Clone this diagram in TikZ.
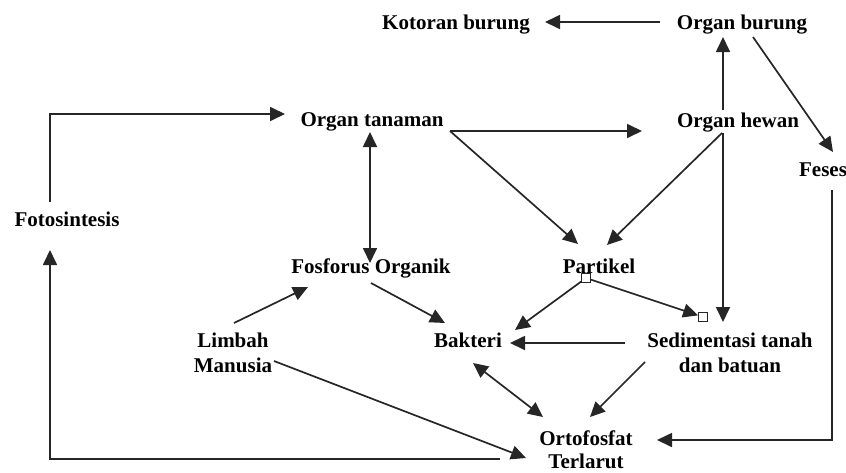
\documentclass[tikz,border=0pt]{standalone}
\usepackage{fontspec}
\setmainfont{Liberation Serif}
\usetikzlibrary{arrows.meta}

\begin{document}
\begin{tikzpicture}[x=1pt,y=-1pt,
  lbl/.style={font=\bfseries\fontsize{21}{25}\selectfont, inner sep=0pt, anchor=base, align=center},
  arr/.style={draw=black!85, line width=1.7pt, -{Triangle[length=15pt,width=14pt]}},
  darr/.style={arr, {Triangle[length=15pt,width=14pt]}-{Triangle[length=15pt,width=14pt]}},
  handle/.style={draw=black!85, fill=white, line width=0.8pt, minimum size=9pt, inner sep=0pt}]
 \useasboundingbox (0,0) rectangle (846,472);
 \node[lbl] (kotoran) at (456,29) {Kotoran burung};
 \node[lbl] (burung) at (742,29) {Organ burung};
 \node[lbl] (tanaman) at (372,126) {Organ tanaman};
 \node[lbl] (hewan) at (738,127) {Organ hewan};
 \node[lbl] (feses) at (823,176) {Feses};
 \node[lbl] (foto) at (67,226) {Fotosintesis};
 \node[lbl] (fosforus) at (371,273) {Fosforus Organik};
 \node[lbl] (partikel) at (599,273) {Partikel};
 \node[lbl] (limbah) at (233,372) {Limbah\\Manusia};
 \node[lbl] (bakteri) at (468,347) {Bakteri};
 \node[lbl] (sedimen) at (730,372) {Sedimentasi tanah\\dan batuan};
 \node[lbl, font=\bfseries\fontsize{21}{23}\selectfont] (orto) at (586,468) {Ortofosfat\\Terlarut};
 \node[handle] (h1) at ([shift={(-13,5)}]partikel.base) {};
 \node[handle] (h2) at ([shift={(-27,-55)}]sedimen.base) {};

 \draw[arr] ([shift={(-82,-7)}]burung.base) -- ([shift={(89,-7)}]kotoran.base);
 \draw[arr] ([shift={(-15,-17)}]hewan.base) -- ([shift={(-19,8)}]burung.base);
 \draw[arr] ([shift={(11,8)}]burung.base) -- ([shift={(10,-24)}]feses.base);
 \draw[arr] ([shift={(-17,-24)}]foto.base) |- ([shift={(-87,-12)}]tanaman.base);
 \draw[darr] ([shift={(-2,6)}]tanaman.base) -- ([shift={(-1,-10)}]fosforus.base);
 \draw[arr] ([shift={(78,5)}]tanaman.base) -- ([shift={(-96,4)}]hewan.base);
 \draw[arr] ([shift={(78,5)}]tanaman.base) -- ([shift={(-21,-29)}]partikel.base);
 \draw[arr] ([shift={(-16,6)}]hewan.base) -- ([shift={(8,-28)}]partikel.base);
 \draw[arr] ([shift={(-15,6)}]hewan.base) -- ([shift={(-7,-50)}]sedimen.base);
 \draw[arr] ([shift={(9,14)}]feses.base) |- ([shift={(71,-28)}]orto.base);
 \draw[arr] ([shift={(-86,-9)}]orto.base) -| ([shift={(-17,24)}]foto.base);
 \draw[arr] ([shift={(1,-49)}]limbah.base) -- ([shift={(-63,14)}]fosforus.base);
 \draw[arr] ([shift={(41,-11)}]limbah.base) -- ([shift={(-60,-10)}]orto.base);
 \draw[arr] ([shift={(0,10)}]fosforus.base) -- ([shift={(-23,-24)}]bakteri.base);
 \draw[arr] (h1) -- ([shift={(47,-17)}]bakteri.base);
 \draw[arr] (h1) -- (h2);
 \draw[arr] ([shift={(-105,-29)}]sedimen.base) -- ([shift={(42,-4)}]bakteri.base);
 \draw[darr] ([shift={(5,16)}]bakteri.base) -- ([shift={(-43,-51)}]orto.base);
 \draw[arr] ([shift={(-85,-10)}]sedimen.base) -- ([shift={(4,-51)}]orto.base);
\end{tikzpicture}
\end{document}
